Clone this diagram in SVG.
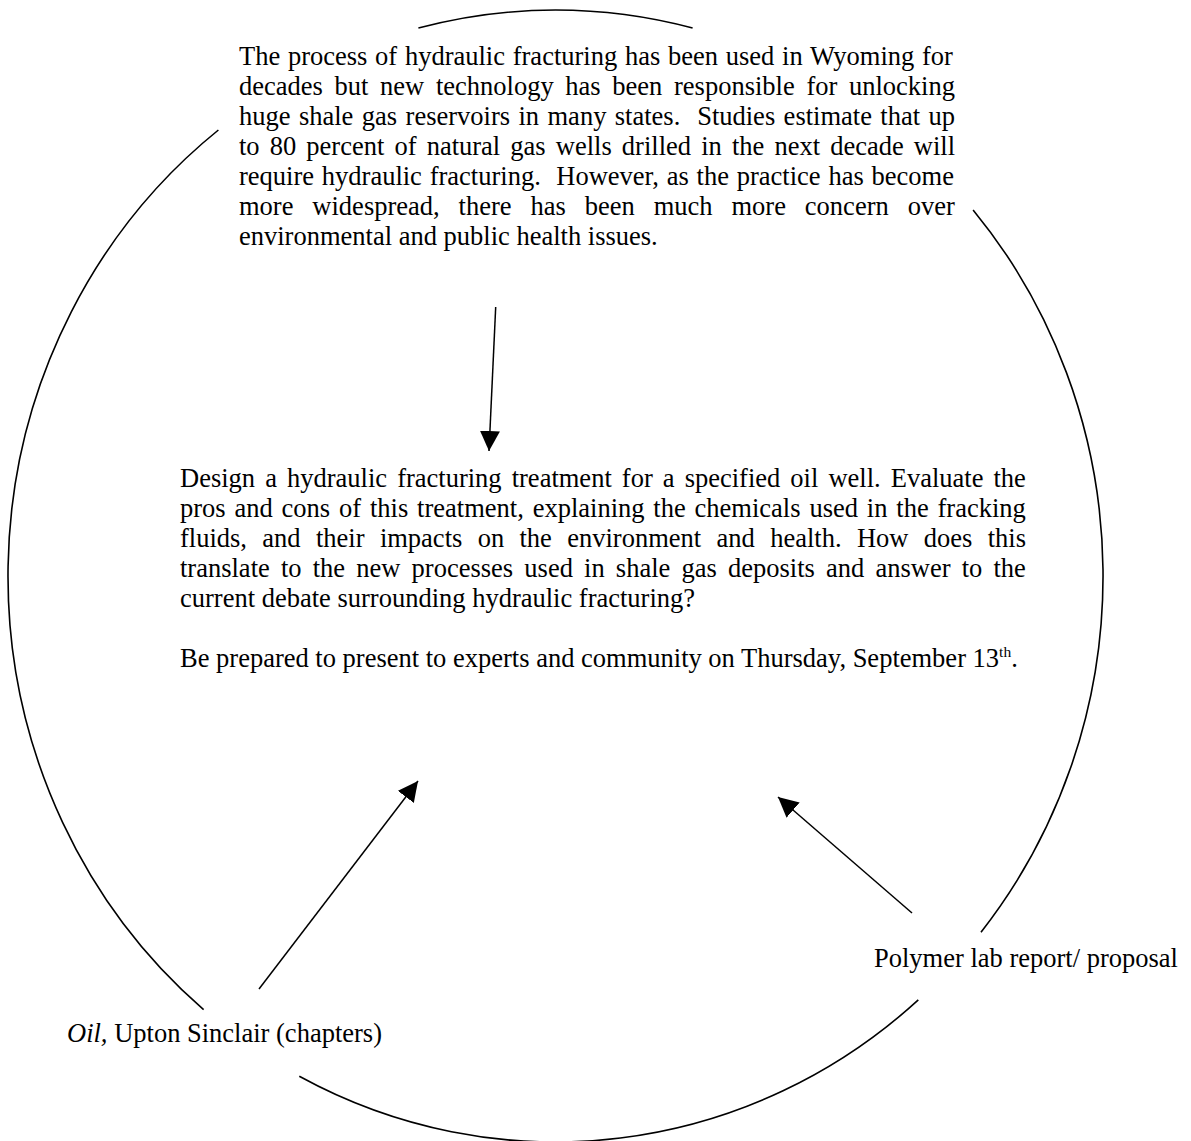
<svg xmlns="http://www.w3.org/2000/svg" width="1191" height="1141" viewBox="0 0 1191 1141">
<defs>
<marker id="ah" markerUnits="userSpaceOnUse" markerWidth="20" markerHeight="20" viewBox="0 0 20 20" refX="20" refY="10" orient="auto"><path d="M0,0 L20,10 L0,20 z" fill="#000"/></marker>
</defs>
<style>
text { font-family: "Liberation Serif", "Times New Roman", serif; font-size: 26.5px; fill: #000; }
.arc { fill: none; stroke: #000; stroke-width: 1.6; }
.conn { fill: none; stroke: #000; stroke-width: 1.5; marker-end: url(#ah); }
</style>
<rect width="1191" height="1141" fill="#fff"/>
<g id="cycle">
<path class="arc" d="M418.4,28.1 A547.5,566 0 0 1 692.6,28.1"/>
<path class="arc" d="M973.1,209.9 A547.5,566 0 0 1 981,932.2"/>
<path class="arc" d="M918.3,999.9 A547.5,566 0 0 1 299.3,1076.2"/>
<path class="arc" d="M203.6,1009.6 A547.5,566 0 0 1 218.4,130"/>
</g>
<g id="connectors">
<line class="conn" x1="495.7" y1="307" x2="489" y2="451"/>
<line class="conn" x1="259" y1="989" x2="418" y2="781"/>
<line class="conn" x1="912" y1="913" x2="778" y2="797"/>
</g>
<g id="context">
<text xml:space="preserve" x="239" y="64.5" word-spacing="1.1">The process of hydraulic fracturing has been used in Wyoming for</text>
<text xml:space="preserve" x="239" y="94.5" word-spacing="5.05">decades but new technology has been responsible for unlocking</text>
<text xml:space="preserve" x="239" y="124.5" word-spacing="1.8">huge shale gas reservoirs in many states.  Studies estimate that up</text>
<text xml:space="preserve" x="239" y="154.5" word-spacing="3.5">to 80 percent of natural gas wells drilled in the next decade will</text>
<text xml:space="preserve" x="239" y="184.5" word-spacing="1.15">require hydraulic fracturing.  However, as the practice has become</text>
<text xml:space="preserve" x="239" y="214.5" word-spacing="12.3">more widespread, there has been much more concern over</text>
<text xml:space="preserve" x="239" y="244.5">environmental and public health issues.</text>
</g>
<g id="task">
<text xml:space="preserve" x="180" y="486.5" word-spacing="3.45">Design a hydraulic fracturing treatment for a specified oil well. Evaluate the</text>
<text xml:space="preserve" x="180" y="516.5" word-spacing="2.23">pros and cons of this treatment, explaining the chemicals used in the fracking</text>
<text xml:space="preserve" x="180" y="546.5" word-spacing="8.73">fluids, and their impacts on the environment and health. How does this</text>
<text xml:space="preserve" x="180" y="576.5" word-spacing="4.55">translate to the new processes used in shale gas deposits and answer to the</text>
<text xml:space="preserve" x="180" y="606.5">current debate surrounding hydraulic fracturing?</text>
<text xml:space="preserve" x="180" y="666.5">Be prepared to present to experts and community on Thursday, September 13<tspan font-size="15.5" dy="-10">th</tspan><tspan dy="10">.</tspan></text>
</g>
<g id="oil">
<text xml:space="preserve" x="67" y="1042"><tspan font-style="italic">Oil,</tspan> Upton Sinclair (chapters)</text>
</g>
<g id="polymer">
<text xml:space="preserve" x="874" y="967">Polymer lab report/ proposal</text>
</g>
</svg>
